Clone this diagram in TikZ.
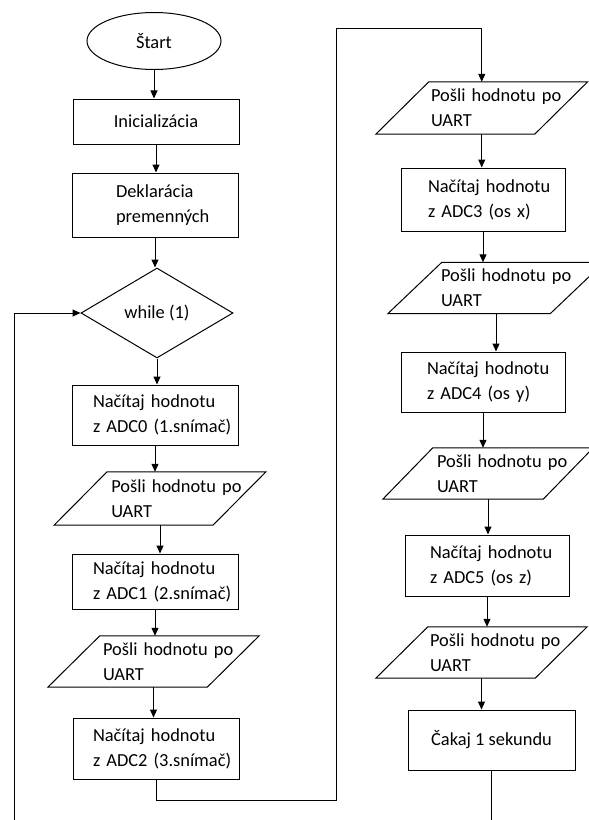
\documentclass[tikz,border=0pt]{standalone}
\usepackage{fontspec}
\setmainfont{Carlito}
\usetikzlibrary{shapes.geometric,arrows.meta}
\newcommand\flowfont{\fontsize{18.4bp}{25bp}\selectfont}
\newcommand\drawpara[2]{%
  \draw[shapeline] ([xshift=#2]#1.north west) -- ([xshift=#2]#1.north east)
    -- ([xshift=-#2]#1.south east) -- ([xshift=-#2]#1.south west) -- cycle;}
\tikzset{
  shapeline/.style={draw=black, line width=1bp, line join=miter},
  base/.style={inner sep=0pt, font=\flowfont, text=black},
  procbox/.style={base, shapeline, rectangle},
  leftbox/.style n args={3}{base, rectangle, align=left, text width=#1, inner xsep=#2, minimum height=#3},
  flow/.style={draw=black, line width=1bp, -{Triangle[length=8bp,width=7bp]}},
  plainline/.style={draw=black, line width=1bp},
}
\begin{document}
\begin{tikzpicture}[x=1bp,y=-1bp]
\useasboundingbox (0,0) rectangle (589,820);
\fill[white] (0,0) rectangle (589,820);

% left column
\node[base, shapeline, ellipse, minimum width=134bp, minimum height=57bp] (start) at (154,41) {Štart};
\node[procbox, minimum width=166bp, minimum height=45bp] (init) at (156,121.5) {Inicializácia};
\node[procbox, leftbox={78bp}{44bp}{64bp}] (decl) at (155,205) {\mbox{Deklarácia}\\\mbox{premenných}};
\node[base, shapeline, diamond, aspect=1.69, minimum width=152bp, minimum height=90bp] (while) at (157,313) {while (1)};
\node[procbox, leftbox={124bp}{21bp}{60bp}] (adc0) at (155,415) {\mbox{Načítaj hodnotu}\\\mbox{z ADC0 (1.snímač)}};
\node[leftbox={97.5bp}{30.5bp}{53bp}] (p1) at (160,498.5) {\mbox{Pošli hodnotu po}\\\mbox{UART}};
\node[procbox, leftbox={124bp}{21bp}{55bp}] (adc1) at (155,581.5) {\mbox{Načítaj hodnotu}\\\mbox{z ADC1 (2.snímač)}};
\node[leftbox={101bp}{29bp}{51bp}] (p2) at (153.5,661.5) {\mbox{Pošli hodnotu po}\\\mbox{UART}};
\node[procbox, leftbox={126bp}{20bp}{61bp}] (adc2) at (156,748.5) {\mbox{Načítaj hodnotu}\\\mbox{z ADC2 (3.snímač)}};

% right column
\node[leftbox={101.5bp}{28.5bp}{52bp}] (p3) at (481.75,108) {\mbox{Pošli hodnotu po}\\\mbox{UART}};
\node[procbox, leftbox={110bp}{27bp}{63bp}] (adc3) at (483,199.5) {\mbox{Načítaj hodnotu}\\\mbox{z ADC3 (os x)}};
\node[leftbox={110bp}{26bp}{51bp}] (p4) at (496,288) {\mbox{Pošli hodnotu po}\\\mbox{UART}};
\node[procbox, leftbox={112bp}{26bp}{60bp}] (adc4) at (483,382) {\mbox{Načítaj hodnotu}\\\mbox{z ADC4 (os y)}};
\node[leftbox={102bp}{29bp}{51bp}] (p5) at (488,473.5) {\mbox{Pošli hodnotu po}\\\mbox{UART}};
\node[procbox, leftbox={114bp}{25bp}{61bp}] (adc5) at (487,565.5) {\mbox{Načítaj hodnotu}\\\mbox{z ADC5 (os z)}};
\node[leftbox={103bp}{28bp}{51bp}] (p6) at (481.5,652.5) {\mbox{Pošli hodnotu po}\\\mbox{UART}};
\node[procbox, minimum width=167bp, minimum height=60bp] (wait) at (491.5,740) {Čakaj 1 sekundu};

% parallelograms
\drawpara{p1}{26.5bp}
\drawpara{p2}{26bp}
\drawpara{p3}{26.5bp}
\drawpara{p4}{27bp}
\drawpara{p5}{25bp}
\drawpara{p6}{26bp}

% helper coordinates
\coordinate (c1) at (336,800);
\coordinate (c2) at (336,29);
\coordinate (l1) at (14,820);
\coordinate (l2) at (494,820);

% connectors
\foreach \a/\b in {start/init, init/decl, decl/while, while/adc0, adc0/p1, p1/adc1, adc1/p2, p2/adc2,
                   p3/adc3, adc3/p4, p4/adc4, adc4/p5, p5/adc5, adc5/p6, p6/wait}
  \draw[flow] (\a.south) -- (\a.south |- \b.north);
\draw[flow] (adc2.south) |- (c1) -- (c2) -| (p3.north);
\draw[flow] (l1) |- (while.west);
\draw[plainline] (wait.south) -- (wait.south |- l2);
\end{tikzpicture}
\end{document}
